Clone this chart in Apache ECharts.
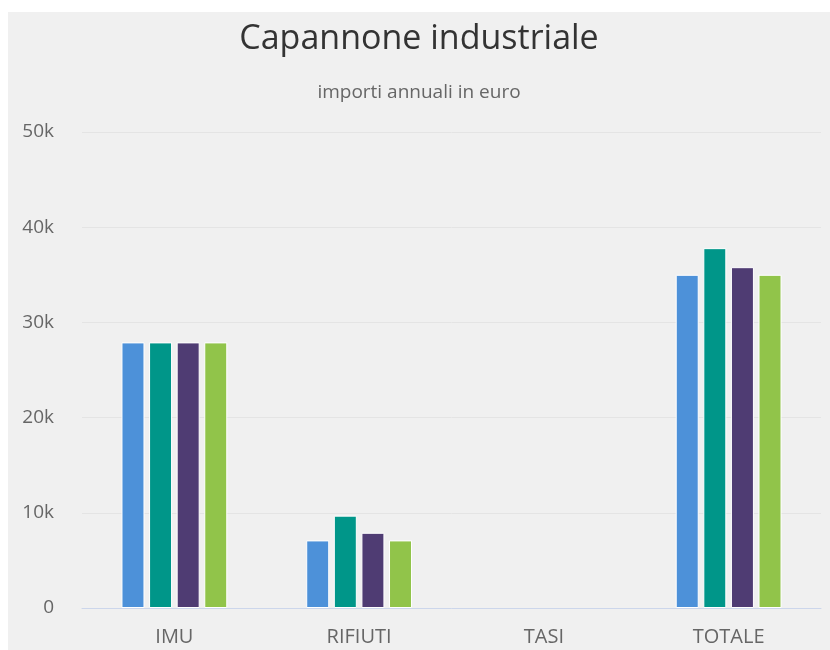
<!DOCTYPE html>
<html>
<head>
<meta charset="utf-8">
<script src="https://cdn.jsdelivr.net/npm/echarts@6/dist/echarts.min.js"></script>
<style>
  html, body { margin: 0; padding: 0; background: #fff; }
  #chart { position: absolute; left: 8px; top: 12px; width: 822px; height: 638px; background: #f0f0f0; }
</style>
</head>
<body>
<div id="chart"></div>
<script>
const categories = ['IMU', 'RIFIUTI', 'TASI', 'TOTALE']
const serie1 = [27900, 7100, 0, 35000]
const serie2 = [27900, 9700, 0, 37800]
const serie3 = [27900, 7900, 0, 35800]
const serie4 = [27900, 7100, 0, 35000]
const colors = ['#4d91d9', '#009689', '#4f3c73', '#91c44a']
const yTicks = ['0', '10k', '20k', '30k', '40k', '50k']

const chart = echarts.init(document.getElementById('chart'))

const makeBar = (data, i) => ({
  type: 'bar',
  // zero bars: no white border line
  data: data.map(v => v === 0 ? { value: v, itemStyle: { borderWidth: 0 } } : v),
  barWidth: 23,
  barGap: '20%',
  itemStyle: {
    color: colors[i],
    borderColor: '#ffffff',
    borderWidth: 1
  }
})

chart.setOption({
  animation: false,
  title: [{
    text: 'Capannone industriale',
    left: 'center',
    top: 5,
    textStyle: {
      fontFamily: 'Open Sans',
      fontSize: 34,
      fontWeight: 'normal',
      color: '#333333'
    }
  }, {
    text: 'importi annuali in euro',
    left: 'center',
    top: 66,
    textStyle: {
      fontFamily: 'Open Sans',
      fontSize: 19,
      fontWeight: 'normal',
      color: '#666666'
    }
  }],
  grid: {
    left: 74,
    right: 9,
    top: 120,
    bottom: 42
  },
  xAxis: {
    type: 'category',
    data: categories,
    axisTick: { show: false },
    axisLine: { lineStyle: { color: '#ccd6eb' } },
    axisLabel: {
      fontFamily: 'Open Sans',
      fontSize: 20,
      color: '#666666',
      margin: 19
    }
  },
  yAxis: {
    type: 'value',
    min: 0,
    max: 50000,
    interval: 10000,
    axisLine: { show: false },
    axisTick: { show: false },
    splitLine: { lineStyle: { color: '#e4e4e4' } },
    axisLabel: {
      fontFamily: 'Open Sans',
      fontSize: 19,
      color: '#666666',
      margin: 28,
      formatter: (v) => yTicks[v / 10000]
    }
  },
  series: [serie1, serie2, serie3, serie4].map(makeBar)
})
</script>
</body>
</html>
